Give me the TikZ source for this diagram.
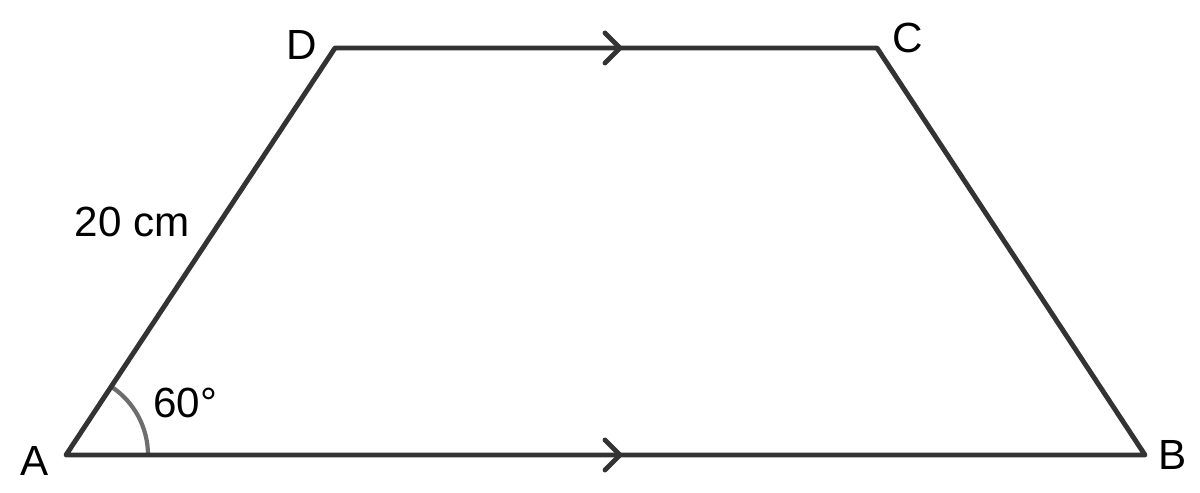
\documentclass[tikz,border=0pt]{standalone}
\usepackage{fontspec}
\setmainfont{Liberation Sans}
\usetikzlibrary{calc}
\definecolor{edgegrey}{HTML}{333333}
\definecolor{arcgrey}{HTML}{6E6E6E}
\tikzset{
  side/.style={draw=edgegrey, line width=2.8pt, line cap=round, line join=round},
  chevron/.style={draw=edgegrey, line width=2.8pt, line cap=round, line join=miter},
  lbl/.style={font=\fontsize{24}{28}\selectfont, text=black, inner sep=0pt}
}
\begin{document}
\begin{tikzpicture}
\useasboundingbox (0,0) rectangle (24,9.84);
\coordinate (A) at (1.32,0.74);
\coordinate (B) at (22.9,0.74);
\coordinate (C) at (17.54,8.88);
\coordinate (D) at (6.7,8.88);

% angle at A
\draw[arcgrey, line width=2.4pt] ($(A)+(1.64,0)$) arc (0:56.5:1.64);

\draw[side] (A) -- (B) -- (C) -- (D) -- cycle;

% parallel marks
\coordinate (mAB) at (12.4,0.74);
\coordinate (mDC) at (12.4,8.88);
\foreach \m in {mAB,mDC}{
\draw[chevron] ($(\m)+(-0.3,0.3)$) -- (\m) -- ($(\m)+(-0.3,-0.3)$);
}

\node[lbl] (lA) at (0.7,0.62) {A};
\node[lbl] (lB) at (23.46,0.74) {B};
\node[lbl] (lC) at (18.16,9.08) {C};
\node[lbl] (lD) at (6.04,8.94) {D};
\node[lbl] (side) at (2.64,5.4) {20 cm};
\node[lbl] (ang) at (3.7,1.78) {60°};
\end{tikzpicture}
\end{document}
